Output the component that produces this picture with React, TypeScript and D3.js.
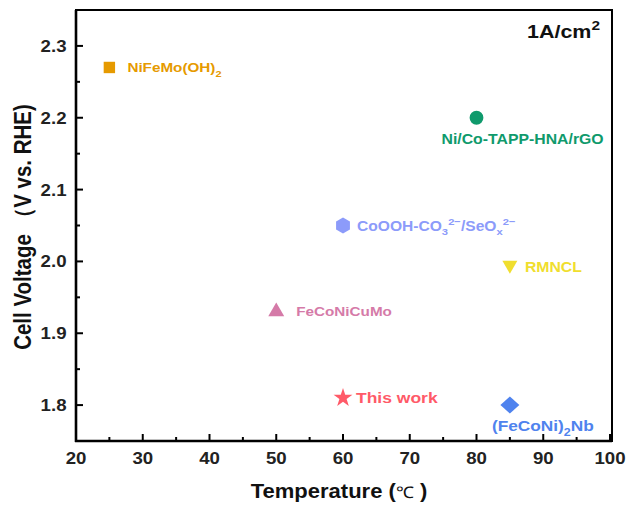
import React from "react";
import * as d3 from "d3";

// ---- data ----
const materials = ["NiFeMo(OH)2", "Ni/Co-TAPP-HNA/rGO", "CoOOH-CO3/SeOx", "RMNCL", "FeCoNiCuMo", "This work", "(FeCoNi)2Nb"];
const temperatures = [25, 80, 60, 85, 50, 60, 85];
const voltages = [2.27, 2.2, 2.05, 1.995, 1.93, 1.81, 1.8];
const xTicks = [20, 30, 40, 50, 60, 70, 80, 90, 100];
const yTicks = [1.8, 1.9, 2.0, 2.1, 2.2, 2.3];

// rich label segments: [text, kind] kind: n normal, b sub, p sup
const labelParts: [string, string][][] = [
  [["NiFeMo(OH)", "n"], ["2", "b"]],
  [["Ni/Co-TAPP-HNA/rGO", "n"]],
  [["CoOOH-CO", "n"], ["3", "b"], ["2−", "p"], ["/SeO", "n"], ["x", "b"], ["2−", "p"]],
  [["RMNCL", "n"]],
  [["FeCoNiCuMo", "n"]],
  [["This work", "n"]],
  [["(FeCoNi)", "n"], ["2", "b"], ["Nb", "n"]],
];

// ---- styles ----
const colors = ["#E69A00", "#0F9A6C", "#8C9BFA", "#F0DE2E", "#D57AA8", "#FF5A68", "#4F83EE"];
const symbols = [d3.symbolSquare, d3.symbolCircle, "hex", "down", d3.symbolTriangle, d3.symbolStar, "diamond"];
const symSizes = [130, 150, 0, 0, 110, 110, 0];
const labelOffsets = [[18, 4.5], [-35, 26], [14, 5], [15, 7], [20, 4.5], [13, 5], [-18, 26]];
const labelSizes = [13.5, 14, 13.8, 14, 13.5, 15.5, 15.3];

const W = 628, H = 508;
const M = { left: 76, right: 610, top: 10, bottom: 441 };
const SX = 1.13;
const FONT = "'Liberation Sans', Arial, sans-serif";

function Rich({ x, y, parts, size, color, anchor = "start" }: any) {
  let shift = 0;
  return (
    <text transform={`translate(${x},${y}) scale(${SX},1)`} fontFamily={FONT} fontWeight="bold" fontSize={size} fill={color} textAnchor={anchor}>
      {parts.map(([t, k]: [string, string], i: number) => {
        const target = k === "b" ? size * 0.35 : k === "p" ? -size * 0.42 : 0;
        const dy = target - shift;
        shift = target;
        return (
          <tspan key={i} dy={dy} fontSize={k === "n" ? size : size * 0.72}>{t}</tspan>
        );
      })}
    </text>
  );
}

function markerPath(i: number): string {
  const s = symbols[i];
  if (s === "hex") {
    const r = 8;
    return d3.range(6).map((k) => {
      const a = Math.PI / 6 + (k * Math.PI) / 3;
      return `${k === 0 ? "M" : "L"}${r * Math.cos(a)},${r * Math.sin(a)}`;
    }).join("") + "Z";
  }
  if (s === "down") {
    const w = 7.5, h = 13;
    return `M${-w},${-h / 3}L${w},${-h / 3}L0,${(2 * h) / 3}Z`;
  }
  if (s === "diamond") {
    const a = 9.5, b = 8.5;
    return `M0,${-b}L${a},0L0,${b}L${-a},0Z`;
  }
  return d3.symbol(s as any, symSizes[i])() as string;
}

export default function App() {
  const x = d3.scaleLinear().domain([20, 100]).range([M.left, M.right]);
  const y = d3.scaleLinear().domain([1.75, 2.35]).range([M.bottom, M.top]);
  const xMinor = d3.range(25, 100, 10);
  const yMinor = d3.range(1.75, 2.35, 0.1).map((v) => +v.toFixed(2));

  return (
    <svg width={W} height={H} style={{ position: "absolute", left: 0, top: 0 }}>
      <rect width={W} height={H} fill="#fff" />
      {/* frame */}
      <rect x={M.left} y={M.top} width={612 - M.left} height={M.bottom - M.top} fill="none" stroke="#000" strokeWidth={2} />
      <line x1={M.left} x2={M.left} y1={M.top} y2={M.bottom + 1} stroke="#000" strokeWidth={2.6} />
      <line x1={M.left - 1} x2={612} y1={M.bottom} y2={M.bottom} stroke="#000" strokeWidth={2.6} />
      {/* x ticks */}
      {xTicks.map((t) => (
        <g key={"x" + t}>
          <line x1={x(t)} x2={x(t)} y1={M.bottom} y2={M.bottom - 7} stroke="#000" strokeWidth={2} />
          <text transform={`translate(${x(t)},${463.5}) scale(${SX},1)`} textAnchor="middle" fontFamily={FONT} fontWeight="bold" fontSize={16.5} fill="#222">{t}</text>
        </g>
      ))}
      {xMinor.map((t) => (
        <line key={"xm" + t} x1={x(t)} x2={x(t)} y1={M.bottom} y2={M.bottom - 4} stroke="#000" strokeWidth={2} />
      ))}
      {/* y ticks */}
      {yTicks.map((t) => (
        <g key={"y" + t}>
          <line x1={M.left} x2={M.left + 7} y1={y(t)} y2={y(t)} stroke="#000" strokeWidth={2} />
          <text transform={`translate(${66.5},${y(t) + 6}) scale(${SX},1)`} textAnchor="end" fontFamily={FONT} fontWeight="bold" fontSize={16.5} fill="#222">{t.toFixed(1)}</text>
        </g>
      ))}
      {yMinor.map((t) => (
        <line key={"ym" + t} x1={M.left} x2={M.left + 4} y1={y(t)} y2={y(t)} stroke="#000" strokeWidth={2} />
      ))}
      {/* axis titles */}
      <text transform={`translate(${339},${498}) scale(${SX},1)`} textAnchor="middle" fontFamily={FONT} fontWeight="bold" fontSize={19.5} fill="#111">
        Temperature (<tspan fontWeight="normal" fontSize={16}>℃</tspan> )
      </text>
      <text transform={`translate(${31},${227}) scale(${SX},1) rotate(-90)`} textAnchor="middle" fontFamily={FONT} fontWeight="bold" fontSize={20.5} fill="#111">
        Cell Voltage （V vs. RHE)
      </text>
      {/* annotation */}
      <Rich x={600} y={38} parts={[["1A/cm", "n"], ["2", "p"]]} size={19} color="#111" anchor="end" />
      {/* points */}
      {materials.map((m, i) => (
        <g key={m}>
          <path d={markerPath(i)} transform={`translate(${x(temperatures[i])},${y(voltages[i])})`} fill={colors[i]} />
          <Rich x={x(temperatures[i]) + labelOffsets[i][0]} y={y(voltages[i]) + labelOffsets[i][1]} parts={labelParts[i]} size={labelSizes[i]} color={colors[i]} />
        </g>
      ))}
    </svg>
  );
}
